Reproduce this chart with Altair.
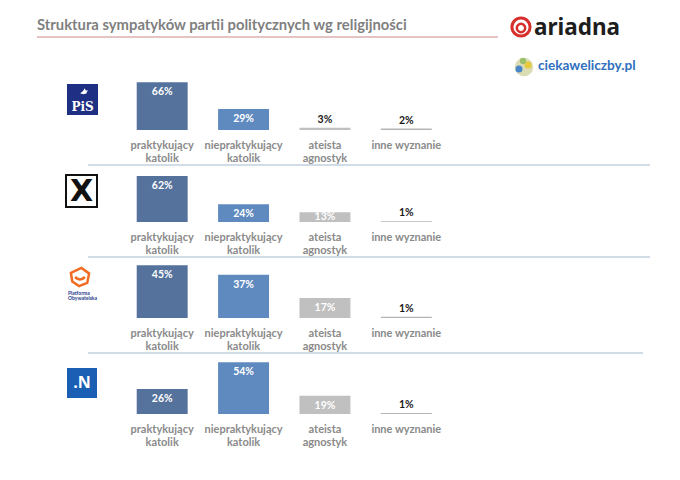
import altair as alt
import pandas as pd

# ---------------- data ----------------
parties = ["PiS", "Kukiz'15", "PO", ".N"]
categories = ["praktykujący katolik", "niepraktykujący katolik", "ateista agnostyk", "inne wyznanie"]
category_lines = ["praktykujący\nkatolik", "niepraktykujący\nkatolik", "ateista\nagnostyk", "inne wyznanie"]
pis = [66, 29, 3, 2]
kukiz = [62, 24, 13, 1]
po = [45, 37, 17, 1]
nowoczesna = [26, 54, 19, 1]
series = [pis, kukiz, po, nowoczesna]

title_text = "Struktura sympatyków partii politycznych wg religijności"

# ---------------- style ----------------
bar_colors = ["#54729c", "#5f8ac0", "#c0c0c0", "#b5b5b5"]
panel_heights = [122, 92, 96, 96]
px_per_pct = [0.725, 0.742, 1.17, 0.96]
W = 664
FONT = "Lato"
one = alt.Data(values=[{"k": 1}])


def deco_text(text, x, y, **kw):
    return alt.Chart(one).mark_text(text=text, **kw).encode(x=alt.value(x), y=alt.value(y))


def deco_rect(x, x2, y, y2, **kw):
    return alt.Chart(one).mark_rect(**kw).encode(
        x=alt.value(x), x2=alt.value(x2), y=alt.value(y), y2=alt.value(y2))


def deco_point(x, y, **kw):
    return alt.Chart(one).mark_point(**kw).encode(x=alt.value(x), y=alt.value(y))


def deco_rule(x, x2, y, **kw):
    return alt.Chart(one).mark_rule(**kw).encode(x=alt.value(x), x2=alt.value(x2), y=alt.value(y))


def logo(i):
    if i == 0:
        return [
            deco_rect(59, 90, 76, 107, fill="#1e2f84"),
            deco_text("PiS", 74.5, 99, align="center", baseline="middle", fontSize=12,
                      fontWeight="bold", font="DejaVu Serif", color="white"),
            deco_point(76, 84, shape="M-1,0.3 L-0.3,-0.2 L0.2,-1 L0.5,-0.3 L1,-0.5 L0.6,0.4 L-0.2,0.6 Z",
                       filled=True, fill="white", size=60, opacity=1),
        ]
    if i == 1:
        return [
            deco_rect(58, 89, 45, 77, fill="white", stroke="#111111", strokeWidth=2),
            deco_text("X", 73.5, 62, align="center", baseline="middle", fontSize=30,
                      fontWeight="bold", font="DejaVu Sans", color="#111111"),
        ]
    if i == 2:
        return [
            deco_point(72, 55, shape="M-1,-0.45 L0.15,-1 L1,-0.4 L0.8,0.65 L-0.1,1 L-0.85,0.5 Z",
                       filled=False, stroke="#f26b22", strokeWidth=2.5, size=330, opacity=1),
            deco_point(72, 55, shape="M-0.7,0 Q0,0.7 0.7,0",
                       filled=False, stroke="#f26b22", strokeWidth=2.5, size=200, opacity=1),
            deco_text("Platforma\nObywatelska", 60, 71, align="left", baseline="middle", fontSize=5,
                      lineBreak="\n", lineHeight=5, fontWeight="bold", font=FONT, color="#1f3c8c"),
        ]
    return [
        deco_rect(59, 89, 50, 80, fill="#1a5fb4"),
        deco_text(".N", 74, 65, align="center", baseline="middle", fontSize=16,
                  fontWeight="bold", font="Open Sans", color="white"),
    ]


def panel(i):
    df = pd.DataFrame({"cat": categories, "label": category_lines, "value": series[i]})
    df["party"] = parties[i]
    df["txt"] = df["value"].astype(str) + "%"
    H = panel_heights[i]
    ymax = H / px_per_pct[i]
    x = alt.X("cat:N", sort=categories, axis=None,
              scale=alt.Scale(domain=categories, range=[113.5, 439],
                              paddingInner=0.374, paddingOuter=0.187))
    yscale = alt.Scale(domain=[0, ymax], nice=False, zero=True)
    y = alt.Y("value:Q", axis=None, scale=yscale)
    base = alt.Chart(df)
    bars = base.mark_bar().encode(
        x=x, y=y,
        color=alt.Color("cat:N", scale=alt.Scale(domain=categories, range=bar_colors), legend=None),
    )
    inside = base.transform_filter("datum.value >= 15").mark_text(
        baseline="top", dy=5, fontSize=10.5, fontWeight="bold", font=FONT, color="white"
    ).encode(x=x, y=y, text="txt:N")
    middle = base.transform_filter("datum.value >= 10 && datum.value < 15").transform_calculate(
        mid="datum.value / 2"
    ).mark_text(
        baseline="middle", fontSize=10.5, fontWeight="bold", font=FONT, color="white"
    ).encode(x=x, y=alt.Y("mid:Q", axis=None, scale=yscale), text="txt:N")
    above = base.transform_filter("datum.value < 10").mark_text(
        baseline="bottom", dy=-3, fontSize=10.5, fontWeight="bold", font=FONT, color="#1a1a1a"
    ).encode(x=x, y=y, text="txt:N")
    cats = base.mark_text(
        baseline="middle", lineBreak="\n", lineHeight=13, fontSize=11, fontWeight="bold",
        font=FONT, color="#8a8a8a"
    ).encode(x=x, y=alt.value(H + 16), text="label:N")
    layers = [bars, inside, middle, above, cats]
    if i < 3:
        layers.append(deco_rule(80, 642 if i < 2 else 635, H + 35, color="#d2dce7", strokeWidth=2))
    layers += logo(i)
    if i == 0:
        layers += [
            deco_text(title_text, 29, 22, align="left", baseline="alphabetic", fontSize=14.8,
                      fontWeight="bold", font=FONT, color="#7f7f7f"),
            deco_rule(29, 490, 29, color="#c98a87", strokeWidth=1),
            deco_point(513, 19, shape="circle", filled=False, stroke="#d7302c", strokeWidth=3,
                       size=330, opacity=1),
            deco_point(513, 20, shape="circle", filled=False, stroke="#d7302c", strokeWidth=2.5,
                       size=70, opacity=1),
            deco_text("ariadna", 526, 27, align="left", baseline="alphabetic", fontSize=22.5,
                      fontWeight="bold", font="Noto Sans", color="#1d1d1d"),
            deco_point(516, 59, shape="circle", filled=True, fill="#dcdcb4", size=340, opacity=1),
            deco_point(511, 61, shape="circle", filled=True, fill="#4a86c8", size=50, opacity=1),
            deco_point(520, 57, shape="circle", filled=True, fill="#e6c93c", size=50, opacity=1),
            deco_point(515, 53, shape="circle", filled=True, fill="#9cc06a", size=40, opacity=1),
            deco_text("ciekaweliczby.pl", 530, 58, align="left", baseline="middle", fontSize=13.6,
                      fontWeight="bold", font=FONT, color="#2f70c0"),
        ]
    return alt.layer(*layers).properties(width=W, height=H)


chart = alt.vconcat(*[panel(i) for i in range(4)], spacing=0, bounds="flush").resolve_scale(
    y="independent"
).configure_view(stroke=None).properties(padding=0)

chart.save("out.html", embed_options={"renderer": "svg", "actions": False})
